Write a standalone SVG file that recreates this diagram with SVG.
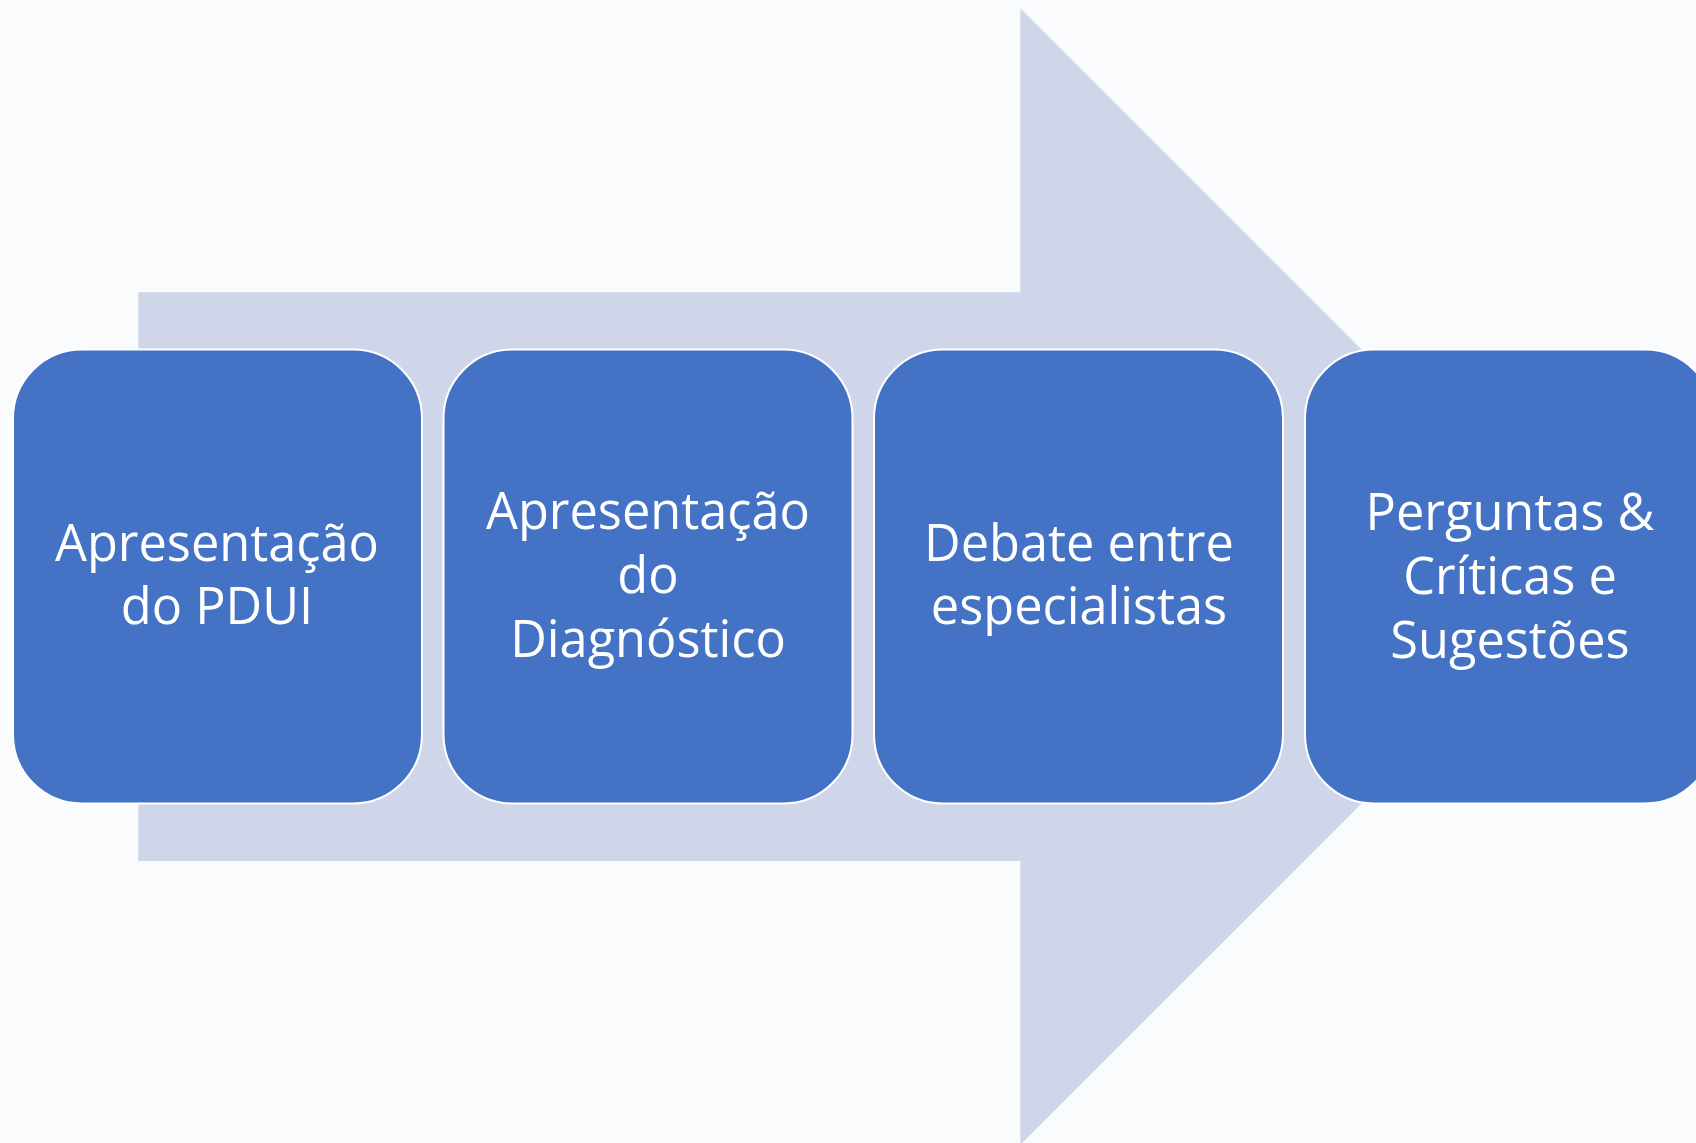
<svg xmlns="http://www.w3.org/2000/svg" width="1696" height="1143" viewBox="0 0 1696 1143">
<style>
.bg{fill:#FAFBFD}
.arrow{fill:#D0D6EA}
.box{fill:#4472C4;stroke:#FFFFFF;stroke-width:2}
.lbl{font-family:"Open Sans","Noto Sans","Liberation Sans",sans-serif;font-size:50.5px;fill:#FFFFFF;text-anchor:middle}
</style>
<rect class="bg" x="0" y="0" width="1696" height="1143"/>
<g id="connectors">
<polygon class="arrow" points="138.3,292.3 1020.3,292.3 1020.3,8.3 1588.6,576.6 1020.3,1144.9 1020.3,861 138.3,861"/>
</g>
<g id="node1">
<rect class="box" x="13" y="349.5" width="409" height="454" rx="69" ry="69"/>
<text class="lbl" x="217" y="561">Apresentação</text>
<text class="lbl" x="217" y="624">do PDUI</text>
</g>
<g id="node2">
<rect class="box" x="443.5" y="349.5" width="409" height="454" rx="69" ry="69"/>
<text class="lbl" x="648" y="529">Apresentação</text>
<text class="lbl" x="648" y="593">do</text>
<text class="lbl" x="648" y="657">Diagnóstico</text>
</g>
<g id="node3">
<rect class="box" x="874" y="349.5" width="409" height="454" rx="69" ry="69"/>
<text class="lbl" x="1079" y="561">Debate entre</text>
<text class="lbl" x="1079" y="624">especialistas</text>
</g>
<g id="node4">
<rect class="box" x="1305" y="349.5" width="409" height="454" rx="69" ry="69"/>
<text class="lbl" x="1510" y="530">Perguntas &amp;</text>
<text class="lbl" x="1510" y="594">Críticas e</text>
<text class="lbl" x="1510" y="658">Sugestões</text>
</g>
</svg>
